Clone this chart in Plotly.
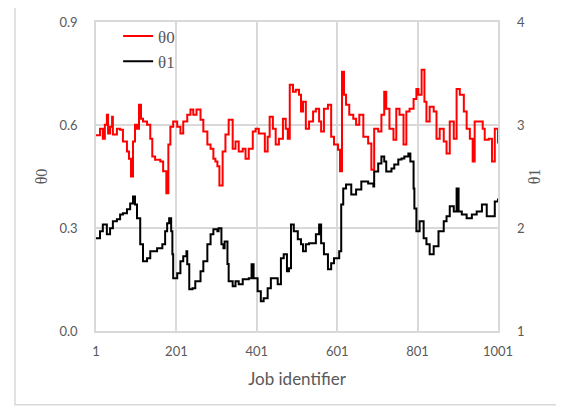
import plotly.graph_objects as go

# theta0 series (left axis)
job0 = [1, 11, 18, 23, 28, 31, 36, 41, 43, 53, 61, 68, 78, 83, 88, 93, 98, 103, 108, 113,
        118, 128, 136, 141, 148, 161, 168, 176, 181, 186, 193, 203, 211, 218, 228, 236, 243,
        251, 261, 268, 278, 286, 293, 298, 303, 308, 316, 323, 331, 341, 348, 356, 366, 373,
        381, 391, 398, 406, 416, 421, 428, 433, 441, 448, 456, 466, 473, 478, 483, 491, 498,
        506, 511, 516, 523, 531, 541, 548, 556, 561, 568, 578, 586, 593, 603, 608, 613, 618,
        623, 631, 641, 648, 656, 666, 678, 686, 693, 703, 711, 718, 723, 731, 741, 748, 756,
        766, 773, 781, 791, 798, 803, 811, 818, 823, 831, 841, 848, 856, 866, 873, 881, 891,
        898, 906, 916, 923, 931, 938, 943, 953, 963, 968, 978, 986, 993, 1001]
theta0 = [0.57, 0.589, 0.560, 0.601, 0.630, 0.575, 0.595, 0.624, 0.572, 0.589, 0.586, 0.552,
          0.523, 0.502, 0.450, 0.552, 0.601, 0.589, 0.659, 0.618, 0.610, 0.601, 0.560, 0.508,
          0.499, 0.494, 0.465, 0.401, 0.543, 0.595, 0.610, 0.595, 0.575, 0.610, 0.630, 0.645,
          0.630, 0.645, 0.615, 0.581, 0.543, 0.531, 0.502, 0.494, 0.480, 0.424, 0.523, 0.572,
          0.615, 0.531, 0.552, 0.523, 0.531, 0.502, 0.531, 0.581, 0.589, 0.575, 0.575, 0.523,
          0.566, 0.624, 0.589, 0.543, 0.560, 0.618, 0.589, 0.560, 0.717, 0.697, 0.703, 0.688,
          0.639, 0.668, 0.589, 0.610, 0.639, 0.647, 0.610, 0.581, 0.647, 0.659, 0.566, 0.543,
          0.528, 0.465, 0.755, 0.688, 0.659, 0.630, 0.618, 0.601, 0.630, 0.566, 0.546, 0.470,
          0.589, 0.581, 0.630, 0.697, 0.647, 0.589, 0.557, 0.647, 0.630, 0.543, 0.639, 0.647,
          0.676, 0.705, 0.688, 0.761, 0.668, 0.610, 0.653, 0.639, 0.560, 0.589, 0.552, 0.517,
          0.610, 0.560, 0.705, 0.688, 0.639, 0.589, 0.560, 0.494, 0.610, 0.610, 0.589, 0.557,
          0.560, 0.494, 0.589, 0.546]

# theta1 series (right axis)
job1 = [1, 11, 18, 28, 36, 43, 53, 61, 68, 78, 86, 93, 98, 103, 111, 118, 128, 136, 143, 153,
        166, 173, 178, 183, 188, 191, 193, 203, 211, 218, 226, 228, 233, 241, 248, 261, 268,
        278, 286, 293, 303, 306, 313, 318, 321, 328, 331, 341, 348, 356, 366, 373, 381, 388,
        393, 403, 411, 418, 428, 436, 443, 453, 461, 468, 476, 481, 486, 493, 503, 511, 516,
        523, 531, 541, 548, 556, 561, 568, 578, 586, 593, 606, 611, 616, 623, 636, 648, 661,
        678, 691, 693, 703, 711, 718, 723, 736, 743, 753, 761, 768, 778, 783, 791, 793, 798,
        806, 816, 823, 831, 841, 853, 866, 873, 881, 891, 898, 903, 911, 923, 936, 948, 961,
        973, 986, 993, 1001]
theta1 = [1.900, 1.968, 2.035, 1.939, 1.997, 2.065, 2.084, 2.132, 2.142, 2.181, 2.239, 2.306,
          2.229, 2.094, 1.842, 1.677, 1.706, 1.774, 1.774, 1.803, 1.842, 1.968, 2.045, 2.094,
          1.968, 1.745, 1.513, 1.561, 1.677, 1.726, 1.774, 1.648, 1.406, 1.416, 1.484, 1.581,
          1.677, 1.842, 1.939, 1.987, 1.968, 1.997, 1.842, 1.803, 1.870, 1.650, 1.484, 1.435,
          1.484, 1.455, 1.503, 1.503, 1.513, 1.648, 1.513, 1.387, 1.290, 1.319, 1.416, 1.513,
          1.513, 1.455, 1.706, 1.745, 1.581, 1.610, 2.035, 1.968, 1.890, 1.842, 1.774, 1.842,
          1.852, 1.852, 1.939, 2.035, 1.852, 1.745, 1.600, 1.658, 1.706, 1.774, 2.229, 2.384,
          2.423, 2.326, 2.374, 2.452, 2.432, 2.403, 2.548, 2.626, 2.694, 2.645, 2.548, 2.577,
          2.616, 2.665, 2.674, 2.694, 2.723, 2.645, 2.384, 2.190, 1.968, 2.065, 1.900, 1.842,
          1.745, 1.823, 1.968, 2.065, 2.113, 2.210, 2.161, 2.384, 2.161, 2.132, 2.094, 2.132,
          2.161, 2.229, 2.113, 2.113, 2.258, 2.287]

x_ticks = [1, 201, 401, 601, 801, 1001]
y0_ticks = [0.0, 0.3, 0.6, 0.9]
y1_ticks = [1, 2, 3, 4]

grid = "#d9d9d9"
txt = "#595959"
tickfont = dict(family="Lato", size=13, color=txt)

fig = go.Figure()
fig.add_trace(go.Scatter(x=job0, y=theta0, mode="lines", name="θ0",
                         line=dict(color="#ff0000", width=2, shape="hv"), yaxis="y"))
fig.add_trace(go.Scatter(x=job1, y=theta1, mode="lines", name="θ1",
                         line=dict(color="#000000", width=2, shape="hv"), yaxis="y2"))

fig.update_layout(
    width=564, height=408,
    margin=dict(l=88, r=74, t=13, b=85),
    paper_bgcolor="white", plot_bgcolor="white",
    showlegend=True,
    legend=dict(x=0.055, y=1.008, xanchor="left", yanchor="top",
                bgcolor="rgba(0,0,0,0)",
                font=dict(family="Liberation Serif", size=17, color=txt)),
    xaxis=dict(range=[1, 1001], tickvals=x_ticks, ticktext=[str(v) for v in x_ticks],
               showgrid=True, gridcolor=grid, gridwidth=1.5,
               showline=True, linecolor=grid, linewidth=1.5, mirror=True,
               zeroline=False, ticks="", tickfont=tickfont, ticklabelstandoff=8,
               automargin=False,
               title=dict(text="Job identifier", font=dict(family="Lato", size=17, color=txt),
                          standoff=15)),
    yaxis=dict(range=[0, 0.9], tickvals=y0_ticks, tickformat=".1f",
               showgrid=True, gridcolor=grid, gridwidth=1.5,
               showline=True, linecolor=grid, linewidth=1.5, mirror=True,
               zeroline=False, ticks="", tickfont=tickfont, ticklabelstandoff=14,
               automargin=False,
               title=dict(text="θ0", font=dict(family="Liberation Serif", size=16, color=txt),
                          standoff=8)),
    yaxis2=dict(range=[1, 4], tickvals=y1_ticks, overlaying="y", side="right",
                showgrid=False, zeroline=False, ticks="", tickfont=tickfont,
                ticklabelstandoff=18, automargin=False,
                title=dict(text="θ1", font=dict(family="Liberation Serif", size=16, color=txt),
                           standoff=4)),
)

fig.add_shape(type="rect", xref="paper", yref="paper",
              x0=-0.2015, x1=1.1567, y0=-0.2387, y1=1.048,
              line=dict(color=grid, width=1.5), layer="below")

fig.write_html("out.html")
